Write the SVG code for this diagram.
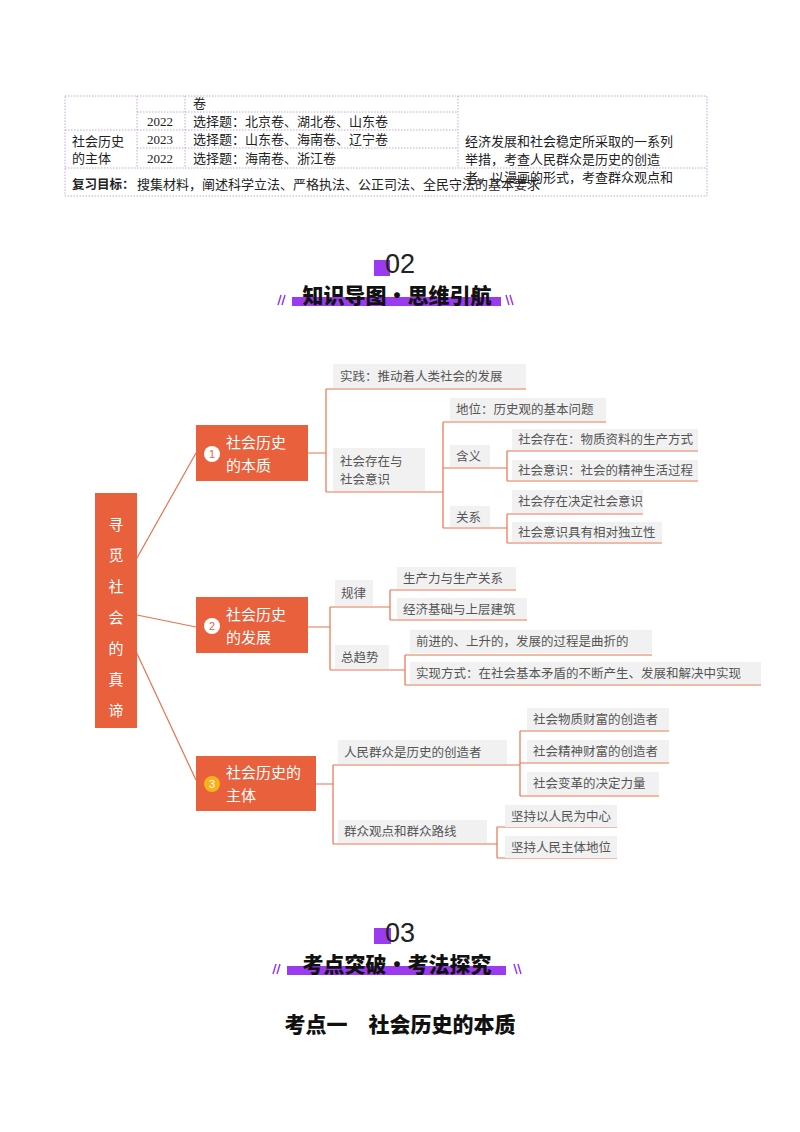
<svg xmlns="http://www.w3.org/2000/svg" width="800" height="1132" viewBox="0 0 800 1132">
<style>
.t{font-family:"Liberation Serif","Noto Sans CJK SC",serif;font-size:13px;fill:#222}
.tb{font-family:"Noto Sans CJK SC",sans-serif;font-size:12.5px;fill:#222}
.grid{stroke:#B58FD6;stroke-width:0.8;stroke-dasharray:1.5 1.5;fill:none}
.box{fill:#F1F1F1}
.lab{font-family:"Noto Sans CJK SC",sans-serif;font-size:12.5px;fill:#555}
.main{fill:#E8603C}
.mt{font-family:"Noto Sans CJK SC",sans-serif;font-size:15px;fill:#fff}
.ln{stroke:#E8734F;stroke-width:1.2;fill:none}
.num{font-family:"Liberation Sans","DejaVu Sans",sans-serif;font-size:27px;fill:#222}
.hd{font-family:"Noto Sans CJK SC",sans-serif;font-weight:900;font-size:21px;fill:#111}
.pur{fill:#9B3BF0}
.sl{stroke:#9B3BF0;stroke-width:1.5}
</style>
<rect width="800" height="1132" fill="#fff"/>
<g id="table">
<rect class="grid" x="65" y="96" width="642" height="100"/>
<line class="grid" x1="137" y1="96" x2="137" y2="168"/>
<line class="grid" x1="185" y1="96" x2="185" y2="168"/>
<line class="grid" x1="458" y1="96" x2="458" y2="168"/>
<line class="grid" x1="137" y1="112" x2="458" y2="112"/>
<line class="grid" x1="65" y1="130" x2="458" y2="130"/>
<line class="grid" x1="137" y1="148" x2="458" y2="148"/>
<line class="grid" x1="65" y1="168" x2="707" y2="168"/>
<text class="t" x="193" y="108">卷</text>
<text class="t" x="147" y="126">2022</text><text class="t" x="193" y="126">选择题：北京卷、湖北卷、山东卷</text>
<text class="t" x="147" y="144">2023</text><text class="t" x="193" y="144">选择题：山东卷、海南卷、辽宁卷</text>
<text class="t" x="147" y="163">2022</text><text class="t" x="193" y="163">选择题：海南卷、浙江卷</text>
<text class="t" x="72" y="146">社会历史</text><text class="t" x="72" y="163">的主体</text>
<text class="t" x="465" y="146" font-size="13.5">经济发展和社会稳定所采取的一系列</text>
<text class="t" x="465" y="164" font-size="13.5">举措，考查人民群众是历史的创造</text>
<text class="t" x="465" y="182" font-size="13.5">者。以漫画的形式，考查群众观点和</text>
<text class="tb" x="72" y="189" font-weight="bold">复习目标：</text><text class="t" x="137" y="189" font-size="12.5">搜集材料，阐述科学立法、严格执法、公正司法、全民守法的基本要求</text>
</g>
<g id="header02">
<rect class="pur" x="374" y="260" width="16" height="16"/>
<text class="num" x="400" y="273" text-anchor="middle">02</text>
<rect class="pur" x="292" y="297" width="209" height="9"/>
<text class="hd" x="397" y="303" text-anchor="middle">知识导图·思维引航</text>
<line class="sl" x1="278" y1="305" x2="281" y2="295"/><line class="sl" x1="282" y1="305" x2="285" y2="295"/>
<line class="sl" x1="506" y1="295" x2="509" y2="305"/><line class="sl" x1="510" y1="295" x2="513" y2="305"/>
</g>
<g id="connectors">
<path class="ln" d="M133 565 L196 453 M137 615 L196 627 M133 645 L196 780"/>
<path class="ln" d="M308 453 H326 M326 389 V492 M326 389 H526 M326 492 H443 M443 422 V528 M443 422 H606 M443 468 H490 M443 528 H490 M490 468 H507 M507 451 V481 M507 451 H698 M507 481 H698 M490 528 H507 M507 514 V543 M507 514 H643 M507 543 H662"/>
<path class="ln" d="M308 627 H330 M330 607 V670 M330 607 H390 M390 590 V620 M390 590 H516 M390 620 H527 M330 670 H405 M405 655 V685 M405 655 H652 M405 685 H761"/>
<path class="ln" d="M316 784 H333 M333 765 V844 M333 765 H520 M520 731 V796 M520 731 H669 M520 763 H669 M520 796 H659 M333 844 H497 M497 827 V858 M497 827 H617 M497 858 H617"/>
</g>
<g id="root"><rect class="main" x="95" y="493" width="42" height="235"/>
<text class="mt" font-size="25" text-anchor="middle"><tspan x="116" y="530">寻</tspan><tspan x="116" y="561">觅</tspan><tspan x="116" y="592">社</tspan><tspan x="116" y="623">会</tspan><tspan x="116" y="654">的</tspan><tspan x="116" y="685">真</tspan><tspan x="116" y="716">谛</tspan></text>
</g>
<g id="n1"><rect class="main" x="196" y="425" width="112" height="56"/><circle cx="212" cy="454" r="8" fill="#fff"/><text x="212" y="458" font-family="Liberation Sans,sans-serif" font-size="11" fill="#E8603C" text-anchor="middle">1</text><text class="mt" x="226" y="448">社会历史</text><text class="mt" x="226" y="471">的本质</text></g>
<g id="n2"><rect class="main" x="196" y="597" width="112" height="56"/><circle cx="212" cy="626" r="8" fill="#fff"/><text x="212" y="630" font-family="Liberation Sans,sans-serif" font-size="11" fill="#E8603C" text-anchor="middle">2</text><text class="mt" x="226" y="620">社会历史</text><text class="mt" x="226" y="643">的发展</text></g>
<g id="n3"><rect class="main" x="196" y="756" width="120" height="55"/><circle cx="212" cy="784" r="8" fill="#F5B21B"/><text x="212" y="788" font-family="Liberation Sans,sans-serif" font-size="11" fill="#fff" text-anchor="middle">3</text><text class="mt" x="226" y="778">社会历史的</text><text class="mt" x="226" y="801">主体</text></g>
<g id="b1"><rect class="box" x="333" y="364" width="193" height="24"/><text class="lab" x="340" y="381">实践：推动着人类社会的发展</text></g>
<g id="b2"><rect class="box" x="333" y="448" width="92" height="43"/><text class="lab" x="340" y="466">社会存在与</text><text class="lab" x="340" y="484">社会意识</text></g>
<g id="b3"><rect class="box" x="450" y="398" width="156" height="23"/><text class="lab" x="456" y="414">地位：历史观的基本问题</text></g>
<g id="b4"><rect class="box" x="450" y="445" width="40" height="22"/><text class="lab" x="456" y="461">含义</text></g>
<g id="b5"><rect class="box" x="512" y="429" width="186" height="21"/><text class="lab" x="518" y="444" font-size="12">社会存在：物质资料的生产方式</text></g>
<g id="b6"><rect class="box" x="512" y="460" width="186" height="20"/><text class="lab" x="518" y="475" font-size="12">社会意识：社会的精神生活过程</text></g>
<g id="b7"><rect class="box" x="450" y="506" width="40" height="21"/><text class="lab" x="456" y="522">关系</text></g>
<g id="b8"><rect class="box" x="512" y="490" width="131" height="23"/><text class="lab" x="518" y="506" font-size="12">社会存在决定社会意识</text></g>
<g id="b9"><rect class="box" x="512" y="522" width="150" height="20"/><text class="lab" x="518" y="537" font-size="12">社会意识具有相对独立性</text></g>
<g id="b10"><rect class="box" x="335" y="580" width="38" height="26"/><text class="lab" x="341" y="598">规律</text></g>
<g id="b11"><rect class="box" x="397" y="567" width="119" height="22"/><text class="lab" x="403" y="583">生产力与生产关系</text></g>
<g id="b12"><rect class="box" x="397" y="598" width="130" height="21"/><text class="lab" x="403" y="614">经济基础与上层建筑</text></g>
<g id="b13"><rect class="box" x="335" y="645" width="54" height="24"/><text class="lab" x="341" y="662">总趋势</text></g>
<g id="b14"><rect class="box" x="410" y="630" width="242" height="23"/><text class="lab" x="416" y="646">前进的、上升的，发展的过程是曲折的</text></g>
<g id="b15"><rect class="box" x="410" y="662" width="351" height="22"/><text class="lab" x="416" y="678">实现方式：在社会基本矛盾的不断产生、发展和解决中实现</text></g>
<g id="b16"><rect class="box" x="338" y="740" width="169" height="24"/><text class="lab" x="344" y="757" font-size="13">人民群众是历史的创造者</text></g>
<g id="b17"><rect class="box" x="527" y="708" width="142" height="22"/><text class="lab" x="533" y="724">社会物质财富的创造者</text></g>
<g id="b18"><rect class="box" x="527" y="740" width="142" height="22"/><text class="lab" x="533" y="756">社会精神财富的创造者</text></g>
<g id="b19"><rect class="box" x="527" y="772" width="132" height="23"/><text class="lab" x="533" y="788">社会变革的决定力量</text></g>
<g id="b20"><rect class="box" x="338" y="820" width="149" height="23"/><text class="lab" x="344" y="836">群众观点和群众路线</text></g>
<g id="b21"><rect class="box" x="505" y="805" width="112" height="22"/><text class="lab" x="511" y="821">坚持以人民为中心</text></g>
<g id="b22"><rect class="box" x="505" y="836" width="112" height="22"/><text class="lab" x="511" y="852">坚持人民主体地位</text></g>
<g id="header03">
<rect class="pur" x="374" y="928" width="17" height="16"/>
<text class="num" x="400" y="942" text-anchor="middle">03</text>
<rect class="pur" x="287" y="966" width="219" height="9"/>
<text class="hd" x="397" y="972" text-anchor="middle">考点突破·考法探究</text>
<line class="sl" x1="273" y1="974" x2="276" y2="964"/><line class="sl" x1="277" y1="974" x2="280" y2="964"/>
<line class="sl" x1="514" y1="964" x2="517" y2="974"/><line class="sl" x1="518" y1="964" x2="521" y2="974"/>
<text class="hd" x="400" y="1032" text-anchor="middle" font-size="19" font-weight="bold">考点一　社会历史的本质</text>
</g>
</svg>
